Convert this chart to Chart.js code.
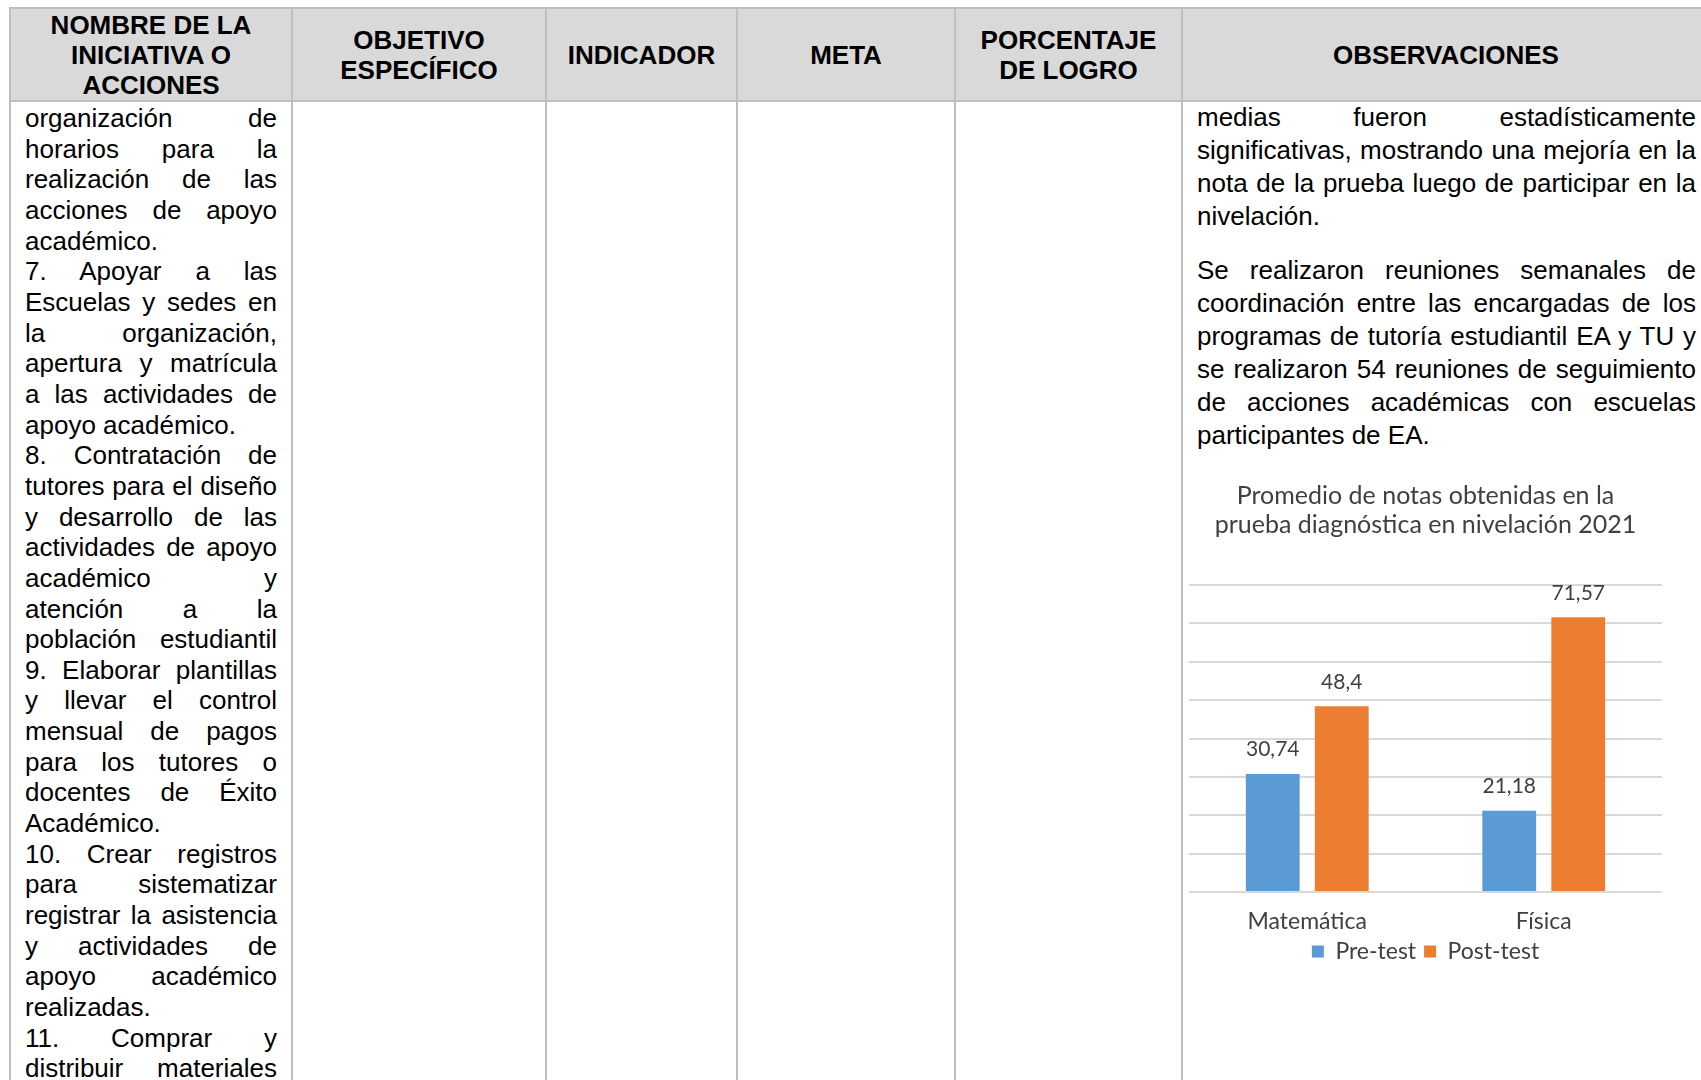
<!DOCTYPE html>
<html>
<head>
<meta charset="utf-8">
<script src="https://cdn.jsdelivr.net/npm/chart.js@4.4.1/dist/chart.umd.min.js"></script>
<style>
  html, body { margin: 0; padding: 0; background: #fff; }
  body { width: 1701px; height: 1080px; overflow: hidden; position: relative; font-family: "Liberation Sans", Arial, sans-serif; color: #000; }
  .hdr { position: absolute; left: 10px; top: 8px; width: 1700px; height: 93px; background: #d9d9d9; }
  .vl { position: absolute; top: 7px; width: 2px; height: 1080px; background: #bfbfbf; }
  .hl { position: absolute; left: 9px; width: 1702px; height: 2px; background: #bfbfbf; }
  .hcell { position: absolute; top: 9px; height: 91px; display: flex; align-items: center; justify-content: center;
           text-align: center; font-weight: bold; font-size: 26px; line-height: 30px; }
  .col { position: absolute; font-size: 26px; }
  .col div { text-align: justify; text-align-last: justify; white-space: nowrap; }
  .col div.end { text-align-last: left; }
  .left div { line-height: 30.65px; }
  .right div { line-height: 33px; }
  .right .gap { height: 21px; }
  #chartBox { position: absolute; left: 1185px; top: 470px; }
</style>
</head>
<body>
<div class="hdr"></div>
<div class="hl" style="top:7px"></div>
<div class="hl" style="top:100px"></div>
<div class="vl" style="left:9px"></div>
<div class="vl" style="left:291px"></div>
<div class="vl" style="left:545px"></div>
<div class="vl" style="left:736px"></div>
<div class="vl" style="left:954px"></div>
<div class="vl" style="left:1181px"></div>
<div class="vl" style="left:1709px"></div>

<div class="hcell" style="left:11px;width:280px">NOMBRE DE LA<br>INICIATIVA O<br>ACCIONES</div>
<div class="hcell" style="left:293px;width:252px">OBJETIVO<br>ESPECÍFICO</div>
<div class="hcell" style="left:547px;width:189px">INDICADOR</div>
<div class="hcell" style="left:738px;width:216px">META</div>
<div class="hcell" style="left:956px;width:225px">PORCENTAJE<br>DE LOGRO</div>
<div class="hcell" style="left:1183px;width:526px">OBSERVACIONES</div>

<div class="col left" style="left:25px;top:103px;width:252px">
  <div>organización de</div>
  <div>horarios para la</div>
  <div>realización de las</div>
  <div>acciones de apoyo</div>
  <div class="end">académico.</div>
  <div>7. Apoyar a las</div>
  <div>Escuelas y sedes en</div>
  <div>la organización,</div>
  <div>apertura y matrícula</div>
  <div>a las actividades de</div>
  <div class="end">apoyo académico.</div>
  <div>8. Contratación de</div>
  <div>tutores para el diseño</div>
  <div>y desarrollo de las</div>
  <div>actividades de apoyo</div>
  <div>académico y</div>
  <div>atención a la</div>
  <div>población estudiantil</div>
  <div>9. Elaborar plantillas</div>
  <div>y llevar el control</div>
  <div>mensual de pagos</div>
  <div>para los tutores o</div>
  <div>docentes de Éxito</div>
  <div class="end">Académico.</div>
  <div>10. Crear registros</div>
  <div>para sistematizar</div>
  <div>registrar la asistencia</div>
  <div>y actividades de</div>
  <div>apoyo académico</div>
  <div class="end">realizadas.</div>
  <div>11. Comprar y</div>
  <div>distribuir materiales</div>
</div>

<div class="col right" style="left:1197px;top:101px;width:499px">
  <div>medias fueron estadísticamente</div>
  <div>significativas, mostrando una mejoría en la</div>
  <div>nota de la prueba luego de participar en la</div>
  <div class="end">nivelación.</div>
  <div class="gap"></div>
  <div>Se realizaron reuniones semanales de</div>
  <div>coordinación entre las encargadas de los</div>
  <div>programas de tutoría estudiantil EA y TU y</div>
  <div>se realizaron 54 reuniones de seguimiento</div>
  <div>de acciones académicas con escuelas</div>
  <div class="end">participantes de EA.</div>
</div>

<div id="chartBox"><canvas id="myChart" width="481" height="503"></canvas></div>

<script>
var categories = ['Matemática', 'Física'];
var seriesNames = ['Pre-test', 'Post-test'];
var preTest = [30.74, 21.18];
var postTest = [48.4, 71.57];
var yMin = 0, yMax = 80, yStep = 10;
var chartTitle = ['Promedio de notas obtenidas en la', 'prueba diagnóstica en nivelación 2021'];

// value labels above the bars, decimal comma like the original
var barLabels = {
    id: 'barLabels',
    afterDatasetsDraw: function (chart) {
        var ctx = chart.ctx;
        ctx.save();
        ctx.font = '21px Lato';
        ctx.fillStyle = '#404040';
        ctx.textAlign = 'center';
        ctx.textBaseline = 'bottom';
        chart.data.datasets.forEach(function (ds, i) {
            chart.getDatasetMeta(i).data.forEach(function (bar, j) {
                ctx.fillText(String(ds.data[j]).replace('.', ','), bar.x, bar.y - 14);
            });
        });
        ctx.restore();
    }
};

var ctx = document.getElementById('myChart').getContext('2d');
var chart = new Chart(ctx, {
    type: 'bar',
    data: {
        labels: categories,
        datasets: [{
            label: seriesNames[0],
            backgroundColor: '#5B9BD5',
            data: preTest,
            categoryPercentage: 0.5835,
            barPercentage: 0.78
        }, {
            label: seriesNames[1],
            backgroundColor: '#ED7D31',
            data: postTest,
            categoryPercentage: 0.5835,
            barPercentage: 0.78
        }]
    },
    options: {
        responsive: false,
        animation: false,
        layout: { padding: { left: 4, right: 4, top: 0, bottom: 0 } },
        plugins: {
            title: {
                display: true,
                text: chartTitle,
                color: '#404040',
                font: { family: 'Lato', size: 25, weight: 'normal', lineHeight: 1.16 },
                padding: { top: 11, bottom: 46 }
            },
            legend: {
                position: 'bottom',
                labels: {
                    boxWidth: 12,
                    boxHeight: 12,
                    color: '#404040',
                    font: { family: 'Lato', size: 23 },
                    padding: 8
                }
            },
            tooltip: { enabled: false }
        },
        scales: {
            x: {
                grid: { display: false, drawTicks: false },
                border: { display: false },
                ticks: { color: '#404040', font: { family: 'Lato', size: 23 }, padding: 16 },
                afterFit: function (scale) { scale.height = 40; }
            },
            y: {
                min: yMin,
                max: yMax,
                ticks: { display: false, stepSize: yStep },
                grid: { color: '#d9d9d9', lineWidth: 2, drawTicks: false },
                border: { display: false }
            }
        }
    },
    plugins: [barLabels]
});
</script>
</body>
</html>
